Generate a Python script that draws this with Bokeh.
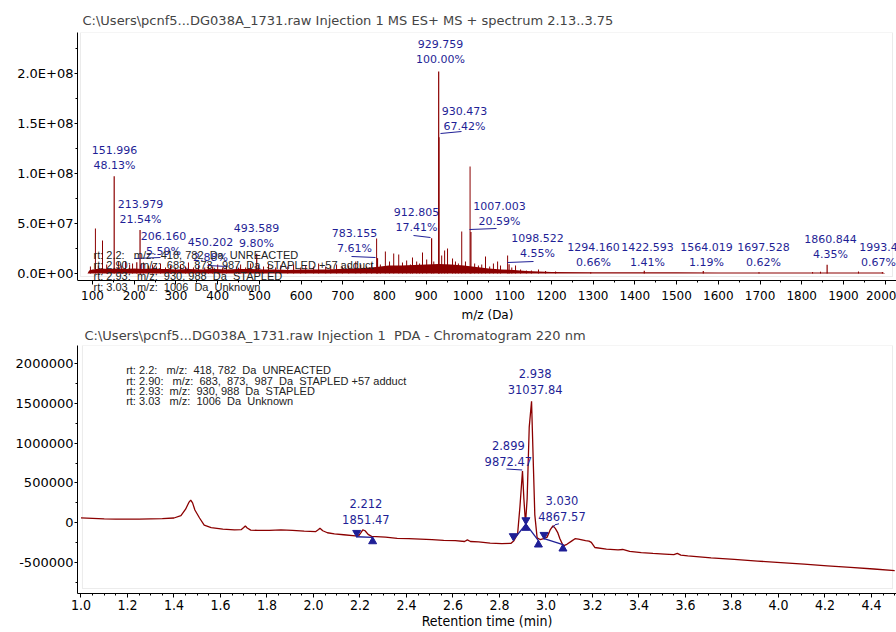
from bokeh.plotting import figure
from bokeh.layouts import column
from bokeh.models import (ColumnDataSource, Range1d, SingleIntervalTicker,
                          PrintfTickFormatter, CustomJSTickFormatter,
                          BoxAnnotation, Label)
from bokeh.core.properties import value
from bokeh.embed import file_html
from bokeh.resources import INLINE

# ---------------------------------------------------------------- data
# ES+ mass spectrum, summed over 2.13..3.75 min
base_peak_intensity = 2.02e8          # intensity of the 100 % peak

peak_mz_labels = ["929.759", "930.473", "151.996", "213.979", "206.160", "450.202",
                  "493.589", "783.155", "912.805", "1007.003", "1098.522", "1294.160",
                  "1422.593", "1564.019", "1697.528", "1860.844", "1993.4"]
peak_pct = [100.00, 67.42, 48.13, 21.54, 5.59, 2.88, 9.80, 7.61, 17.41, 20.59,
            4.55, 0.66, 1.41, 1.19, 0.62, 4.35, 0.67]

# unlabelled ions (m/z, intensity in 1e6 counts)
other_mz = [95, 107, 114, 124, 134, 162, 170, 179, 189, 196,
            215, 222, 234, 244, 253, 263, 275, 287, 299, 311,
            323, 330, 342, 354, 369, 378, 388, 400, 412, 421,
            445, 455, 467, 479, 498, 510, 522, 539, 551, 568,
            582, 599, 611, 630, 642, 659, 671, 685, 699, 714,
            731, 743, 757, 769, 781, 790, 802, 812, 822, 834,
            843, 853, 862, 867, 877, 884, 891, 901, 918, 937,
            944, 951, 963, 970, 977, 985, 994, 1005, 1016, 1025,
            1033, 1042, 1052, 1061, 1071, 1078, 1095, 1105, 1114, 1126,
            1140, 1152, 1169, 1186, 1210, 1826, 1845, 1936]
other_int = [7, 45, 8, 33, 9, 12, 8, 12, 9, 10,
             9, 11, 8, 9, 7, 10, 6, 8, 6, 9,
             7, 11, 6, 8, 6, 10, 7, 9, 6, 8,
             7, 9, 6, 10, 8, 7, 9, 6, 8, 7,
             9, 6, 8, 7, 10, 7, 8, 9, 7, 8,
             12, 9, 7, 10, 35, 9, 22, 12, 20, 19,
             11, 13, 9, 16, 12, 10, 21, 14, 12, 18,
             23, 25, 15, 12, 10, 42, 12, 107, 10, 8,
             9, 17, 7, 10, 12, 8, 18, 6, 8, 4,
             3, 3, 4, 2.5, 2, 1.5, 1.8, 2]

# dense low-level background (m/z, level in 1e6 counts)
noise_mz = [88, 92, 100, 120, 140, 160, 180, 200, 220, 240, 260, 280, 300, 330, 360,
            390, 420, 450, 480, 510, 540, 570, 600, 630, 660, 690, 720, 750, 780, 810,
            840, 870, 900, 930, 960, 990, 1020, 1050, 1080, 1110, 1140, 1170, 1200, 1300,
            1400, 1500, 1600, 1700, 1800, 1900, 1995, 2000]
noise_int = [0, 3, 4, 5, 4.5, 5, 4.5, 5, 4.5, 5, 4.5, 4.5, 4, 4.5, 4,
             4.5, 4, 4.5, 4.5, 4, 4, 3.5, 4, 4, 4, 4.5, 5, 5.5, 6.5, 8,
             8, 8.5, 9, 9.5, 9, 8, 6.5, 5, 4, 3.5, 2.5, 2, 1.6, 1.3,
             1.3, 1.2, 1.1, 1.0, 1.0, 1.0, 0.9, 0]

# PDA chromatogram at 220 nm
chrom_t = [1.00, 1.05, 1.10, 1.15, 1.20, 1.25, 1.30, 1.35, 1.40, 1.43,
           1.45, 1.465, 1.472, 1.48, 1.49, 1.51, 1.53, 1.56, 1.61, 1.66,
           1.69, 1.70, 1.707, 1.715, 1.73, 1.76, 1.81, 1.86, 1.91, 1.96,
           2.01, 2.022, 2.028, 2.04, 2.06, 2.09, 2.13, 2.18, 2.195, 2.205,
           2.212, 2.222, 2.235, 2.25, 2.31, 2.36, 2.41, 2.46, 2.51, 2.56,
           2.61, 2.65, 2.662, 2.675, 2.71, 2.76, 2.81, 2.85, 2.862, 2.878,
           2.888, 2.899, 2.905, 2.912, 2.919, 2.928, 2.938, 2.945, 2.952, 2.962,
           2.975, 2.99, 3.005, 3.018, 3.030, 3.040, 3.050, 3.060, 3.074, 3.09,
           3.11, 3.125, 3.14, 3.17, 3.185, 3.195, 3.21, 3.26, 3.31, 3.33,
           3.36, 3.41, 3.46, 3.51, 3.55, 3.565, 3.58, 3.61, 3.71, 3.81,
           3.91, 4.01, 4.11, 4.21, 4.31, 4.41, 4.50]
chrom_v = [62000, 56000, 50000, 46000, 45000, 47000, 50000, 52000, 60000, 90000,
           170000, 260000, 285000, 250000, 160000, 60000, -30000, -60000, -80000, -88000,
           -85000, -60000, -40000, -65000, -92000, -95000, -95000, -88000, -95000, -105000,
           -110000, -85000, -68000, -100000, -125000, -138000, -150000, -165000, -160000, -120000,
           -88000, -100000, -145000, -170000, -180000, -195000, -200000, -205000, -212000, -220000,
           -225000, -235000, -215000, -235000, -240000, -255000, -262000, -258000, -225000, -140000,
           200000, 650000, 300000, -10000, 300000, 1200000, 1525000, 800000, 100000, -190000,
           -210000, -200000, -180000, -90000, -38000, -70000, -120000, -200000, -290000, -270000,
           -230000, -200000, -205000, -225000, -230000, -245000, -310000, -330000, -340000, -335000,
           -360000, -375000, -385000, -393000, -400000, -385000, -405000, -415000, -440000, -460000,
           -480000, -500000, -520000, -540000, -560000, -580000, -600000]

# integrated peaks: apex time, area, baseline start / end
peak_rt = [2.212, 2.899, 2.938, 3.030]
peak_area = [1851.47, 9872.47, 31037.84, 4867.57]
base_start_t = [2.186, 2.8595, 2.9137, 2.992]
base_start_v = [-175000, -216000, -16000, -200000]
base_end_t = [2.2545, 2.9137, 2.9675, 3.073]
base_end_v = [-184000, -16000, -225000, -275000]

NB = "\u00a0"
legend_rows = [
    "rt: 2.2:" + NB * 3 + "m/z:" + NB * 2 + "418, 782" + NB * 2 + "Da" + NB * 2 + "UNREACTED",
    "rt: 2.90:" + NB * 3 + "m/z:" + NB * 2 + "683," + NB * 2 + "873," + NB * 2 + "987"
    + NB * 2 + "Da" + NB * 2 + "STAPLED +57 adduct",
    "rt: 2.93:" + NB * 2 + "m/z:" + NB * 2 + "930, 988" + NB * 2 + "Da" + NB * 2 + "STAPLED",
    "rt: 3.03" + NB * 3 + "m/z:" + NB * 2 + "1006" + NB * 2 + "Da" + NB * 2 + "Unknown",
]

top_title = "C:\\Users\\pcnf5...DG038A_1731.raw Injection 1 MS ES+ MS + spectrum 2.13..3.75"
bot_title = "C:\\Users\\pcnf5...DG038A_1731.raw Injection 1\u00a0 PDA - Chromatogram 220 nm"

# ---------------------------------------------------------------- layout
RED = "#8b0000"
BLUE = "#1f1f96"
FONT = "DejaVu Sans"
W = 896

# upper panel: the frame runs to the bottom of its canvas so the run notes
# and the m/z axis (drawn at a fixed spot) are not clipped
TOP_H = 322
T_LEFT, T_TOP, T_AXIS = 77, 32, 280
T_XPX = 0.4172
T_X0 = 100 - (92 - T_LEFT) / T_XPX
T_X1 = T_X0 + (W - T_LEFT) / T_XPX
T_YPX = 1e6
T_Y1 = (273 - T_TOP) * T_YPX
T_Y0 = -(TOP_H - 273) * T_YPX


def tx(px):
    return T_X0 + (px - T_LEFT) / T_XPX


def ty(py):
    return T_Y1 - (py - T_TOP) * T_YPX


# lower panel
BOT_H = 632 - TOP_H
B_LEFT, B_TOP, B_BOTTOM = 71, 344, 593
B_XPX = 234.2
B_X0 = 1.0 - (74.5 - B_LEFT) / B_XPX
B_X1 = B_X0 + (W - B_LEFT) / B_XPX
B_YPX = 12500
B_Y1 = (522 - B_TOP) * B_YPX
B_Y0 = -(B_BOTTOM - 522) * B_YPX


def bx(px):
    return B_X0 + (px - B_LEFT) / B_XPX


def by(py):
    return B_Y1 - (py - B_TOP) * B_YPX


# annotation text positions (page px: centre x, first line y)
top_lab_pos = [(440, 43), (464, 110), (114, 149), (140, 203), (163, 235), (210, 241),
               (256, 227), (354, 232), (416, 211), (499, 205), (537, 237), (593, 246),
               (647, 246), (706, 246), (763, 246), (830, 238), (878, 246)]
top_leaders = [((440, 133), (461, 131)), ((134, 258), (160, 257)), ((207, 265), (227, 266)),
               ((351, 256), (375, 257)), ((413, 235), (430, 237)), ((469, 229), (496, 228)),
               ((507, 262), (533, 261))]
bot_lab_pos = [(361.5, 503), (505, 444), (532, 372), (559, 500)]
bot_leaders = [[(503, 468), (519, 469)], [(549.5, 527), (552, 524), (556, 523)]]


def make_fig(height, xr, yr, left, top, bottom):
    p = figure(width=W, height=height, output_backend="svg", toolbar_location=None,
               x_range=Range1d(*xr), y_range=Range1d(*yr),
               min_border_left=left, min_border_right=0,
               min_border_top=top, min_border_bottom=bottom)
    p.outline_line_color = None
    p.grid.visible = False
    p.background_fill_color = "white"
    p.border_fill_color = "white"
    p.title.text_font = FONT
    p.title.text_font_size = "13px"
    p.title.text_font_style = "normal"
    p.title.align = "left"
    for ax in (p.xaxis[0], p.yaxis[0]):
        ax.axis_line_color = "black"
        ax.major_tick_line_color = "black"
        ax.minor_tick_line_color = "black"
        ax.major_tick_in = 0
        ax.minor_tick_in = 0
        ax.major_tick_out = 4
        ax.minor_tick_out = 2
        ax.major_label_text_color = "black"
        ax.axis_label_text_font_style = "normal"
        ax.axis_label_text_color = "black"
    return p


# ---------------------------------------------------------------- spectrum
top = make_fig(TOP_H, (T_X0, T_X1), (T_Y0, T_Y1), T_LEFT, T_TOP, 0)
top.title.text = top_title
top.title.offset = 5
top.title.standoff = 9

top.xaxis.fixed_location = ty(T_AXIS)
top.xaxis.ticker = SingleIntervalTicker(interval=100, num_minor_ticks=2)
top.xaxis.formatter = PrintfTickFormatter(format="%d")
top.xaxis.major_label_text_font = FONT
top.xaxis.major_label_text_font_size = "12px"
top.xaxis.major_label_standoff = 6
top.add_layout(Label(x=487, y=314, x_units="canvas", y_units="canvas", text="m/z (Da)",
                     text_font=FONT, text_font_size="12px", text_color="black",
                     text_align="center", text_baseline="middle"))

top.yaxis.bounds = (ty(T_AXIS), T_Y1)
top.yaxis.ticker = SingleIntervalTicker(interval=5e7, num_minor_ticks=2)
top.yaxis.formatter = CustomJSTickFormatter(code="""
    const s = tick.toExponential(1).toUpperCase();
    return s.replace(/E([+-])(\\d)$/, (m, sg, d) => "E" + sg + "0" + d);
""")
top.yaxis.major_label_text_font = FONT
top.yaxis.major_label_text_font_size = "13px"
top.yaxis.major_tick_out = 3
top.yaxis.major_label_standoff = 1

top.add_layout(BoxAnnotation(left=tx(80), right=tx(892), top=ty(T_TOP), bottom=ty(276),
                             fill_alpha=0, line_color="#bdbdbd", line_width=1, level="underlay"))

top.varea(x=noise_mz, y1=0, y2=[v * 1e6 for v in noise_int], fill_color=RED, fill_alpha=1)
top.segment(x0=other_mz, y0=0, x1=other_mz, y1=[v * 1e6 for v in other_int],
            line_color=RED, line_width=1)
lab_mz = [float(s) for s in peak_mz_labels]
lab_h = [p / 100.0 * base_peak_intensity for p in peak_pct]
top.segment(x0=lab_mz, y0=0, x1=lab_mz, y1=lab_h, line_color=RED, line_width=1.2)

top_src = ColumnDataSource(dict(
    x=[tx(c[0]) for c in top_lab_pos],
    y1=[ty(c[1]) for c in top_lab_pos],
    y2=[ty(c[1] + 16) for c in top_lab_pos],
    t1=peak_mz_labels,
    t2=["%.2f%%" % p for p in peak_pct],
))
for ycol, tcol in (("y1", "t1"), ("y2", "t2")):
    top.text(x="x", y=ycol, text=tcol, source=top_src, text_font=value(FONT),
             text_font_size=value("11px"), text_color=BLUE,
             text_align="center", text_baseline="middle")
top.segment(x0=[tx(a[0]) for a, b in top_leaders], y0=[ty(a[1]) for a, b in top_leaders],
            x1=[tx(b[0]) for a, b in top_leaders], y1=[ty(b[1]) for a, b in top_leaders],
            line_color=BLUE, line_width=1)

for i, row in enumerate(legend_rows):
    top.add_layout(Label(x=93, y=254 + 10.7 * i, x_units="canvas", y_units="canvas",
                         text=row, text_font="Liberation Sans", text_font_size="11px",
                         text_color="#222222", text_align="left", text_baseline="middle"))

# ---------------------------------------------------------------- chromatogram
bot = make_fig(BOT_H, (B_X0, B_X1), (B_Y0, B_Y1), B_LEFT, B_TOP - TOP_H, 632 - B_BOTTOM)
bot.title.text = bot_title
bot.title.offset = 7
bot.title.standoff = 6

bot.xaxis.ticker = SingleIntervalTicker(interval=0.2, num_minor_ticks=4)
bot.xaxis.formatter = PrintfTickFormatter(format="%.1f")
bot.xaxis.major_label_text_font = "DejaVu Sans Condensed"
bot.xaxis.major_label_text_font_size = "14px"
bot.xaxis.major_label_standoff = 2
bot.xaxis.axis_label = "Retention time (min)"
bot.xaxis.axis_label_text_font = "DejaVu Sans Condensed"
bot.xaxis.axis_label_text_font_size = "14px"
bot.xaxis.axis_label_standoff = 0

bot.yaxis.ticker = SingleIntervalTicker(interval=500000, num_minor_ticks=2)
bot.yaxis.formatter = PrintfTickFormatter(format="%d")
bot.yaxis.major_label_text_font = FONT
bot.yaxis.major_label_text_font_size = "13px"
bot.yaxis.major_tick_out = 3
bot.yaxis.major_label_standoff = 1

bot.add_layout(BoxAnnotation(left=bx(76), right=bx(892), top=by(B_TOP), bottom=by(588),
                             fill_alpha=0, line_color="#bdbdbd", line_width=1, level="underlay"))

bot.line(chrom_t, chrom_v, line_color=RED, line_width=1.3)

bot.segment(x0=base_start_t, y0=base_start_v, x1=base_end_t, y1=base_end_v,
            line_color=BLUE, line_width=1.3)
bot.scatter(x=base_start_t, y=[v + 4 * B_YPX for v in base_start_v], marker="inverted_triangle",
            size=8, fill_color=BLUE, line_color=BLUE)
bot.scatter(x=base_end_t, y=[v - 4 * B_YPX for v in base_end_v], marker="triangle",
            size=8, fill_color=BLUE, line_color=BLUE)

bot_src = ColumnDataSource(dict(
    x=[bx(c[0]) for c in bot_lab_pos],
    y1=[by(c[1]) for c in bot_lab_pos],
    y2=[by(c[1] + 16) for c in bot_lab_pos],
    t1=["%.3f" % r for r in peak_rt],
    t2=["%.2f" % a for a in peak_area],
))
for ycol, tcol in (("y1", "t1"), ("y2", "t2")):
    bot.text(x="x", y=ycol, text=tcol, source=bot_src, text_font=value(FONT),
             text_font_size=value("11.5px"), text_color=BLUE,
             text_align="center", text_baseline="middle")
bot.multi_line(xs=[[bx(p[0]) for p in ln] for ln in bot_leaders],
               ys=[[by(p[1]) for p in ln] for ln in bot_leaders],
               line_color=BLUE, line_width=1)

for i, row in enumerate(legend_rows):
    bot.add_layout(Label(x=bx(120), y=by(369 + 10.3 * i), text=row,
                         text_font="Liberation Sans", text_font_size="11px",
                         text_color="#222222", text_align="left", text_baseline="middle"))

layout = column(top, bot, spacing=0)
open("out.html", "w").write(file_html(layout, INLINE))
